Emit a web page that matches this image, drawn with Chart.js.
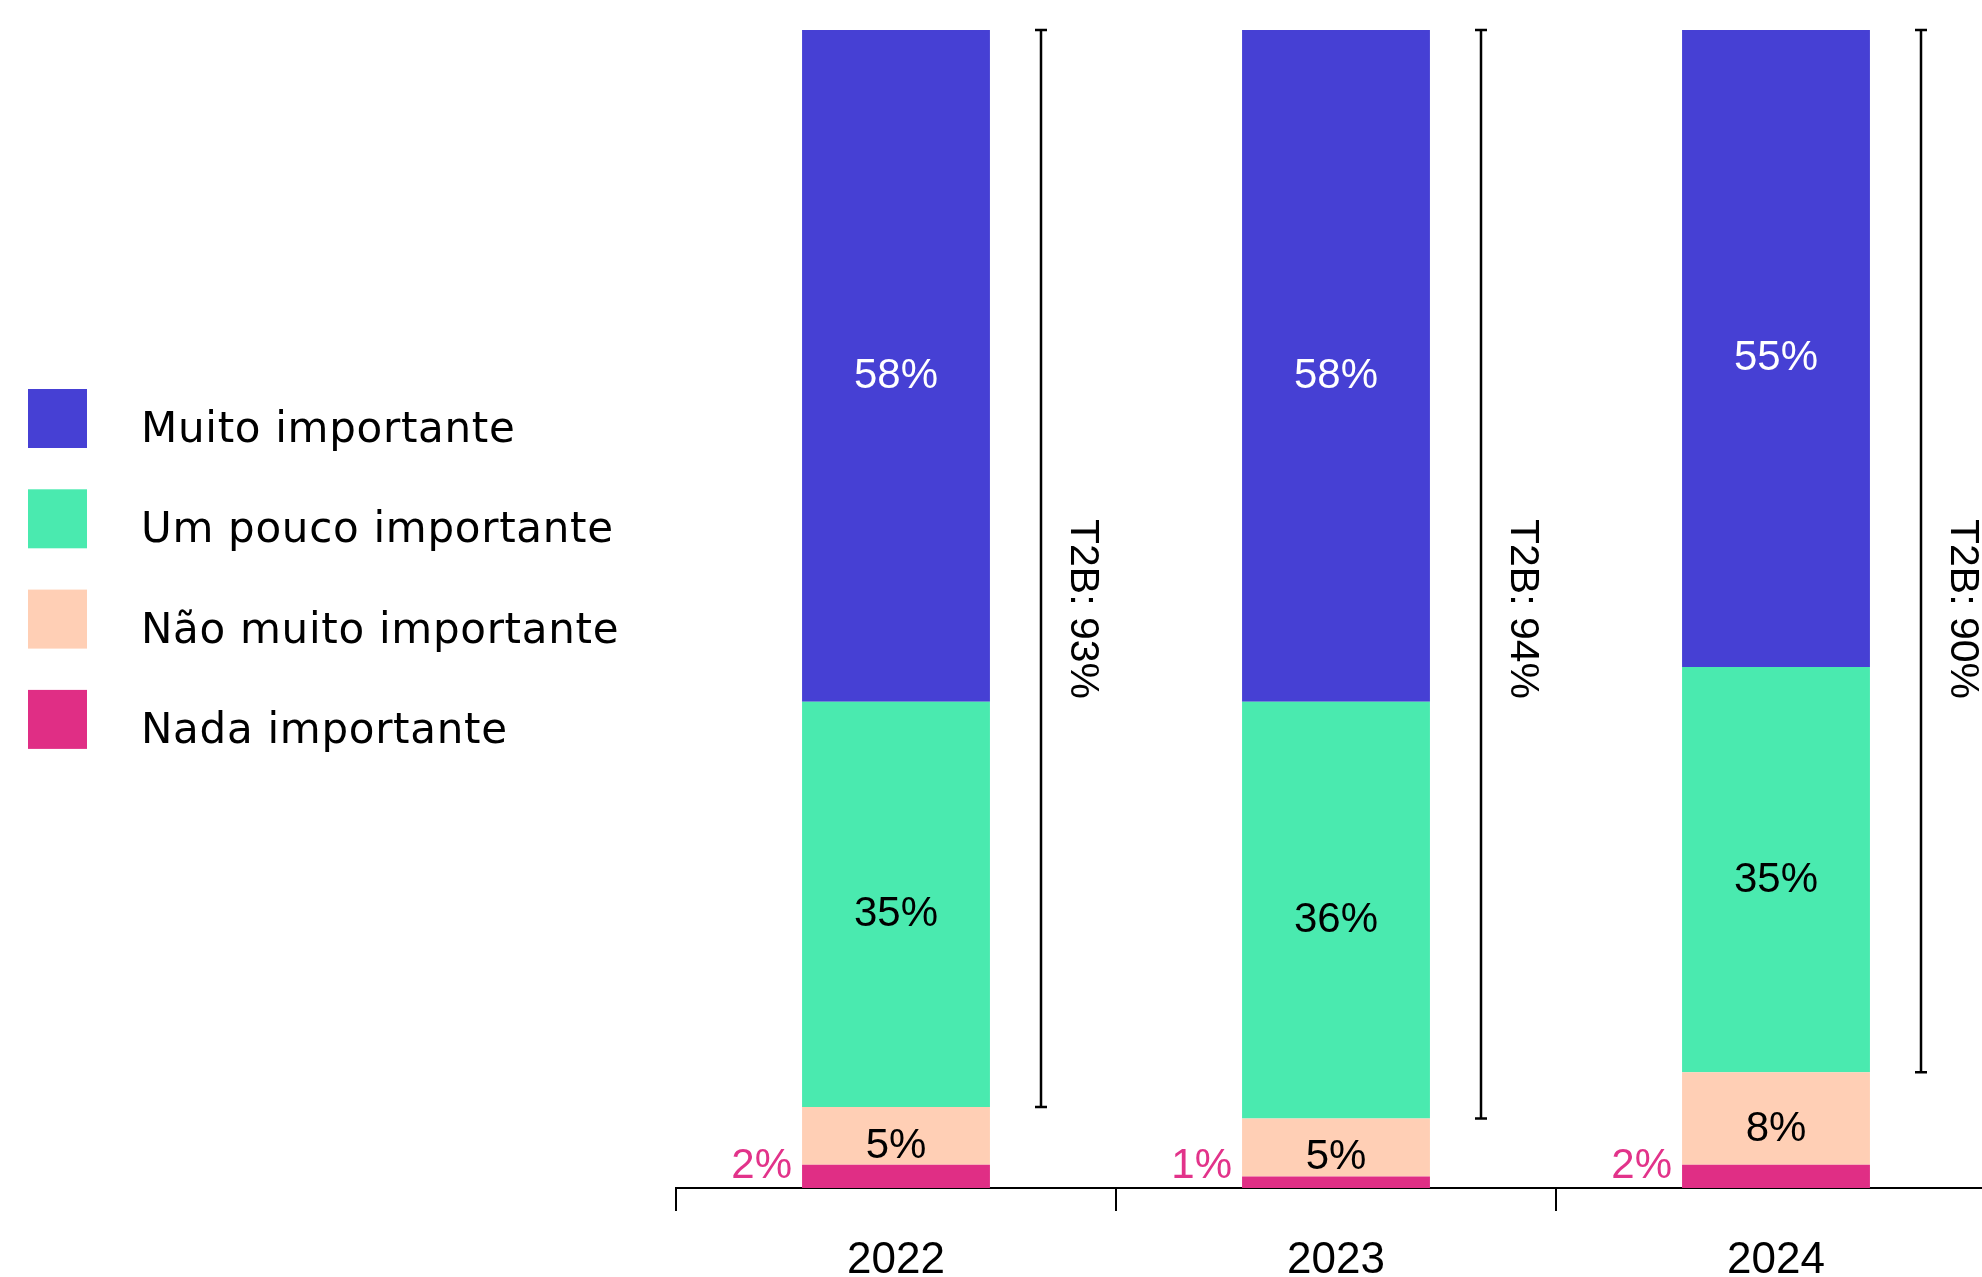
<!DOCTYPE html>
<html>
<head>
<meta charset="utf-8">
<script src="https://cdn.jsdelivr.net/npm/chart.js@4.4.1/dist/chart.umd.min.js"></script>
<style>
html,body{margin:0;padding:0;background:#fff;overflow:hidden;}
#wrap{position:relative;width:1996px;height:1277px;}
canvas{display:block;}
</style>
</head>
<body>
<div id="wrap"><canvas id="c" width="1996" height="1277"></canvas></div>
<script>
// ---- data ----
const categories = ['2022', '2023', '2024'];
const seriesNames = ['Nada importante', 'Não muito importante', 'Um pouco importante', 'Muito importante'];
const nadaImportante = [2, 1, 2];
const naoMuitoImportante = [5, 5, 8];
const umPoucoImportante = [35, 36, 35];
const muitoImportante = [58, 58, 55];
const t2bValues = [93, 94, 90];
const seriesColors = ['#E02E85', '#FFCFB5', '#4AEAAF', '#4640D4'];

const seriesData = [nadaImportante, naoMuitoImportante, umPoucoImportante, muitoImportante];

const datasets = seriesData.map((d, i) => ({
  label: seriesNames[i],
  data: d,
  backgroundColor: seriesColors[i],
  borderWidth: 0,
  barPercentage: 0.427,
  categoryPercentage: 1.0,
  stack: 's'
}));

const LABEL_FONT = '42px "Liberation Sans", Arial, sans-serif';

const overlayPlugin = {
  id: 'overlay',
  afterDatasetsDraw(chart) {
    const ctx = chart.ctx;
    const yScale = chart.scales.y;
    const area = chart.chartArea;
    ctx.save();
    ctx.font = LABEL_FONT;
    // value labels
    chart.data.datasets.forEach((ds, di) => {
      const meta = chart.getDatasetMeta(di);
      meta.data.forEach((bar, i) => {
        const txt = ds.data[i] + '%';
        if (di === 0) {
          ctx.fillStyle = '#E2338A';
          ctx.textAlign = 'right';
          ctx.textBaseline = 'alphabetic';
          ctx.fillText(txt, bar.x - bar.width / 2 - 10, bar.base - 10);
        } else {
          ctx.fillStyle = di === 3 ? '#ffffff' : '#000000';
          ctx.textAlign = 'center';
          ctx.textBaseline = 'alphabetic';
          ctx.fillText(txt, bar.x, (bar.y + bar.base) / 2 + 22);
        }
      });
    });
    // T2B brackets
    const metaTop = chart.getDatasetMeta(3);
    metaTop.data.forEach((bar, i) => {
      const total = seriesData.reduce((s, arr) => s + arr[i], 0);
      const low = nadaImportante[i] + naoMuitoImportante[i];
      const yTop = yScale.getPixelForValue(total);
      const yBot = yScale.getPixelForValue(low);
      const bx = bar.x + 145;
      ctx.strokeStyle = '#000';
      ctx.lineWidth = 2.5;
      ctx.beginPath();
      ctx.moveTo(bx, yTop); ctx.lineTo(bx, yBot);
      ctx.moveTo(bx - 6, yTop); ctx.lineTo(bx + 6, yTop);
      ctx.moveTo(bx - 6, yBot); ctx.lineTo(bx + 6, yBot);
      ctx.stroke();
      ctx.save();
      ctx.translate(bx + 30, (area.top + area.bottom) / 2);
      ctx.rotate(Math.PI / 2);
      ctx.fillStyle = '#000';
      ctx.textAlign = 'center';
      ctx.textBaseline = 'alphabetic';
      ctx.font = '41px "Liberation Sans", Arial, sans-serif';
      ctx.fillText('T2B: ' + t2bValues[i] + '%', 0, 0);
      ctx.restore();
    });
    ctx.restore();
  },
  afterDraw(chart) {
    // legend (top item = top of stack)
    const ctx = chart.ctx;
    ctx.save();
    const boxX = 28, boxSize = 59, top0 = 389, step = 100.3, textX = 141;
    ctx.font = '42px "DejaVu Sans", sans-serif';
    if ('letterSpacing' in ctx) ctx.letterSpacing = '0.7px';
    ctx.textAlign = 'left';
    ctx.textBaseline = 'alphabetic';
    const order = [3, 2, 1, 0];
    order.forEach((di, k) => {
      const ds = chart.data.datasets[di];
      const y = top0 + k * step;
      ctx.fillStyle = ds.backgroundColor;
      ctx.fillRect(boxX, y, boxSize, boxSize);
      ctx.fillStyle = '#000';
      ctx.fillText(ds.label, textX, y + 53);
    });
    ctx.restore();
  }
};

new Chart(document.getElementById('c'), {
  type: 'bar',
  data: { labels: categories, datasets: datasets },
  options: {
    responsive: false,
    animation: false,
    devicePixelRatio: 1,
    layout: { padding: { left: 676, top: 30, right: 0, bottom: 0 } },
    plugins: { legend: { display: false }, tooltip: { enabled: false } },
    scales: {
      x: {
        stacked: true,
        offset: true,
        grid: { display: true, offset: true, drawOnChartArea: false, drawTicks: true, tickLength: 23, color: '#000', lineWidth: 2 },
        border: { display: true, color: '#000', width: 2 },
        ticks: { color: '#000', font: { family: '"Liberation Sans", Arial, sans-serif', size: 44 }, padding: 23 },
        afterFit: (scale) => { scale.height = 89; }
      },
      y: { stacked: true, display: false, min: 0, max: 100 }
    }
  },
  plugins: [overlayPlugin]
});
</script>
</body>
</html>
